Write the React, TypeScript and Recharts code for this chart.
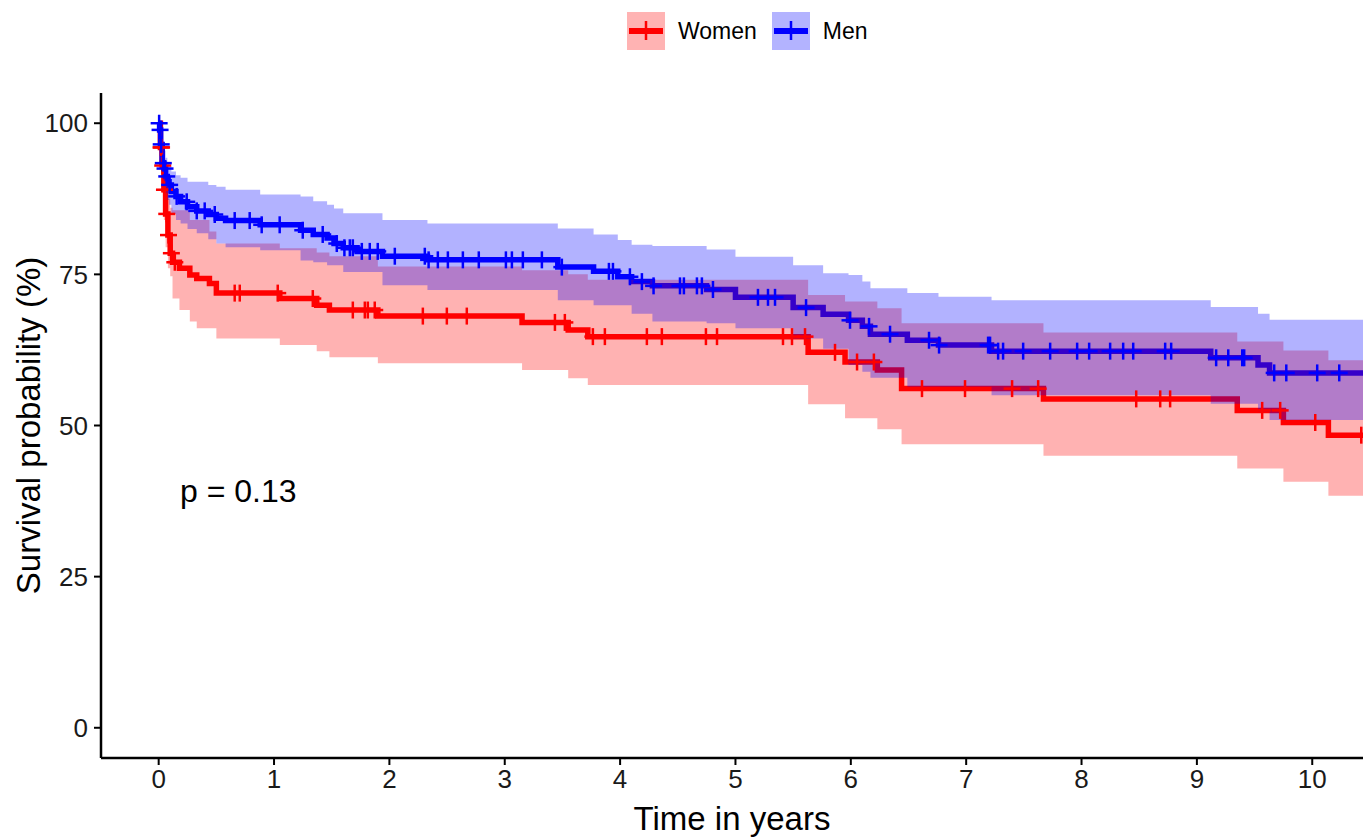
import { ComposedChart, Line, Area, Scatter, XAxis, YAxis, ReferenceDot } from 'recharts'

// Kaplan-Meier steps (time in years, survival %)
const womenTime = [0, 0.015, 0.03, 0.045, 0.06, 0.08, 0.1, 0.12, 0.18, 0.27, 0.33, 0.44, 0.5, 1.05, 1.37, 1.48, 1.9, 3.15, 3.55, 3.72, 5.63, 5.95, 6.23, 6.44, 7.67, 9.35, 9.75, 10.14, 10.6]
const womenSurv = [100, 96, 93, 89, 85, 81.5, 78.5, 77, 76, 74.9, 74.3, 73.5, 71.9, 71.0, 69.9, 69.1, 68.1, 67.05, 65.8, 64.7, 62.1, 60.5, 59.2, 56.1, 54.4, 52.5, 50.5, 48.4, 48.4]
const womenLower = [100, 92.5, 88.5, 84, 79.5, 76, 74.7, 71, 69.1, 67.2, 66.1, 66.1, 64.4, 63.3, 62.3, 61.3, 60.3, 59.2, 57.8, 56.7, 53.5, 51.2, 49.4, 46.9, 45.0, 42.9, 40.7, 38.4, 38.4]
const womenUpper = [100, 99, 97, 94, 90.5, 87.5, 86, 85.6, 85.6, 84, 84, 82.1, 80.1, 79.3, 78.6, 78, 76.3, 75.7, 75.0, 74.1, 71.6, 70.5, 69.4, 66.9, 65.4, 63.9, 62.4, 60.8, 60.8]
const womenCensor = [0.02, 0.025, 0.035, 0.05, 0.07, 0.085, 0.11, 0.14, 0.659, 0.703, 1.032, 1.336, 1.683, 1.787, 1.813, 1.873, 2.29, 2.498, 2.671, 3.435, 3.521, 3.764, 3.868, 4.232, 4.362, 4.744, 4.84, 5.412, 5.49, 5.603, 5.863, 6.054, 6.2, 6.617, 6.99, 7.398, 7.624, 8.474, 8.682, 8.768, 9.566, 9.722, 10.026, 10.425]

const menTime = [0, 0.008, 0.017, 0.03, 0.045, 0.06, 0.075, 0.09, 0.11, 0.15, 0.19, 0.25, 0.33, 0.43, 0.5, 0.58, 0.88, 1.23, 1.34, 1.46, 1.52, 1.6, 1.72, 1.94, 2.33, 3.46, 3.77, 3.98, 4.1, 4.28, 4.75, 5.0, 5.5, 5.76, 5.98, 6.1, 6.17, 6.49, 6.76, 7.22, 9.12, 9.53, 9.63, 10.6]
const menSurv = [100, 98.9, 96.5, 93.4, 92.5, 91.2, 90.3, 89.8, 88.7, 87.9, 87.0, 86.2, 85.5, 84.9, 84.3, 83.9, 83.2, 82.3, 81.6, 81.0, 80.1, 79.4, 78.8, 78.0, 77.4, 76.2, 75.5, 74.6, 73.8, 73.1, 72.5, 71.2, 69.5, 68.4, 67.4, 66.4, 65.1, 64.1, 63.3, 62.3, 61.2, 60.0, 58.7, 58.7]
const menLower = [100, 97.8, 94.5, 91, 89.8, 88.4, 87.3, 86.5, 85, 84, 83.4, 82.5, 81.8, 80.8, 80.1, 79.5, 79.0, 77.3, 77.0, 76.5, 76.5, 75.4, 75.4, 73.2, 72.4, 70.7, 69.9, 69.9, 68.5, 67.2, 66.9, 66.1, 64.4, 62.7, 60.0, 58.9, 57.9, 56.4, 56.4, 55.0, 53.6, 52.3, 50.9, 50.9]
const menUpper = [100, 100, 99, 96.5, 95.5, 94.3, 93.5, 92.9, 92, 91.4, 91.0, 90.3, 90.3, 89.8, 89.5, 89.0, 88.2, 87.9, 87.1, 86.5, 85.9, 85.1, 85.1, 84.0, 83.4, 82.6, 81.6, 80.7, 79.9, 79.7, 79.1, 77.9, 76.5, 75.2, 74.9, 73.8, 72.7, 71.9, 71.3, 70.7, 69.6, 68.5, 67.5, 67.5]
const menCensor = [0.004, 0.012, 0.022, 0.04, 0.055, 0.07, 0.095, 0.156, 0.243, 0.33, 0.399, 0.486, 0.659, 0.789, 0.893, 1.049, 1.249, 1.422, 1.544, 1.61, 1.657, 1.683, 1.761, 1.83, 1.899, 2.047, 2.307, 2.34, 2.42, 2.507, 2.637, 2.775, 3.01, 3.062, 3.157, 3.322, 3.495, 3.903, 3.938, 4.085, 4.189, 4.29, 4.519, 4.553, 4.666, 4.709, 4.805, 5.195, 5.282, 5.343, 5.612, 5.993, 6.158, 6.34, 6.678, 6.765, 7.19, 7.207, 7.277, 7.32, 7.494, 7.728, 7.962, 8.066, 8.248, 8.361, 8.448, 8.725, 8.777, 9.167, 9.272, 9.393, 9.41, 9.67, 9.775, 10.043, 10.234]

const xTicks = [0, 1, 2, 3, 4, 5, 6, 7, 8, 9, 10]
const yTicks = [0, 25, 50, 75, 100]
const pLabel = 'p = 0.13'

const FONT = '"Liberation Sans", Arial, sans-serif'
const RED = '#FF0000'
const BLUE = '#0000FF'

type Step = { t: number; s: number; lo: number; hi: number }

const toSteps = (time: number[], surv: number[], lower: number[], upper: number[]): Step[] =>
  time.map((t, i) => ({ t, s: surv[i], lo: lower[i], hi: upper[i] }))

// survival value of the step curve at time t
const survAt = (steps: Step[], t: number) => {
  let s = steps[0].s
  for (const p of steps) if (p.t <= t) s = p.s
  return s
}

const women = toSteps(womenTime, womenSurv, womenLower, womenUpper)
const men = toSteps(menTime, menSurv, menLower, menUpper)
const womenMarks = womenCensor.map(t => ({ t, s: survAt(women, t) }))
const menMarks = menCensor.map(t => ({ t, s: survAt(men, t) }))

const plus = (color: string) => (props: any) => {
  const { cx, cy } = props
  return (
    <g stroke={color} strokeWidth={2.5}>
      <line x1={cx - 8.5} x2={cx + 8.5} y1={cy} y2={cy} />
      <line x1={cx} x2={cx} y1={cy - 8.5} y2={cy + 8.5} />
    </g>
  )
}

function Swatch({ color, fill }: { color: string; fill: string }) {
  return (
    <svg width={38} height={38} style={{ display: 'block' }}>
      <rect width={38} height={38} fill={fill} />
      <line x1={2} x2={36} y1={19} y2={19} stroke={color} strokeWidth={6} />
      <line x1={19} x2={19} y1={9} y2={28} stroke={color} strokeWidth={2.5} />
    </svg>
  )
}

export default function App() {
  const tick = { fontSize: 26, fill: '#1a1a1a', fontFamily: FONT }
  return (
    <div style={{ position: 'absolute', left: 0, top: 0, width: 1363, height: 837, background: '#fff', fontFamily: FONT }}>
      <div style={{ position: 'absolute', top: 12, left: 627, display: 'flex', alignItems: 'center', fontSize: 23, color: '#000' }}>
        <Swatch color={RED} fill="#FFB3B3" />
        <span style={{ marginLeft: 13, marginRight: 15 }}>Women</span>
        <Swatch color={BLUE} fill="#B3B3FF" />
        <span style={{ marginLeft: 13 }}>Men</span>
      </div>
      <ComposedChart width={1363} height={837} margin={{ top: 93, right: 0, bottom: 0, left: 0 }}>
        <XAxis
          dataKey="t"
          type="number"
          domain={[-0.5, 10.44]}
          allowDataOverflow
          ticks={xTicks}
          height={79}
          tick={tick}
          tickSize={7}
          tickMargin={5}
          tickLine={{ stroke: '#000', strokeWidth: 2 }}
          axisLine={{ stroke: '#000', strokeWidth: 2.5 }}
          label={{ value: 'Time in years', position: 'insideBottom', offset: 7, style: { fontSize: 33, fill: '#000', fontFamily: FONT } }}
        />
        <YAxis
          type="number"
          domain={[-5, 105]}
          allowDataOverflow
          ticks={yTicks}
          width={101}
          tick={tick}
          tickSize={7}
          tickMargin={6}
          tickLine={{ stroke: '#000', strokeWidth: 2 }}
          axisLine={{ stroke: '#000', strokeWidth: 2.5 }}
          label={{ value: 'Survival probability (%)', angle: -90, position: 'insideLeft', offset: 28, style: { textAnchor: 'middle', fontSize: 33, fill: '#000', fontFamily: FONT } }}
        />
        <Line data={women} dataKey="s" type="stepAfter" stroke={RED} strokeWidth={5.5} dot={false} activeDot={false} isAnimationActive={false} zIndex={50} />
        <Line data={men} dataKey="s" type="stepAfter" stroke={BLUE} strokeWidth={5.5} dot={false} activeDot={false} isAnimationActive={false} zIndex={51} />
        <Area data={women} dataKey={(d: Step) => [d.lo, d.hi]} type="stepAfter" stroke="none" fill={RED} fillOpacity={0.3} activeDot={false} isAnimationActive={false} zIndex={100} />
        <Area data={men} dataKey={(d: Step) => [d.lo, d.hi]} type="stepAfter" stroke="none" fill={BLUE} fillOpacity={0.3} activeDot={false} isAnimationActive={false} zIndex={101} />
        <Scatter data={womenMarks} dataKey="s" shape={plus(RED)} isAnimationActive={false} zIndex={600} />
        <Scatter data={menMarks} dataKey="s" shape={plus(BLUE)} isAnimationActive={false} zIndex={601} />
        <ReferenceDot
          x={0.185}
          y={39.3}
          r={0}
          ifOverflow="visible"
          shape={(p: any) => (
            <text x={p.cx} y={p.cy} dy="0.36em" fontSize={32} fontFamily={FONT} fill="#000">
              {pLabel}
            </text>
          )}
        />
      </ComposedChart>
    </div>
  )
}
